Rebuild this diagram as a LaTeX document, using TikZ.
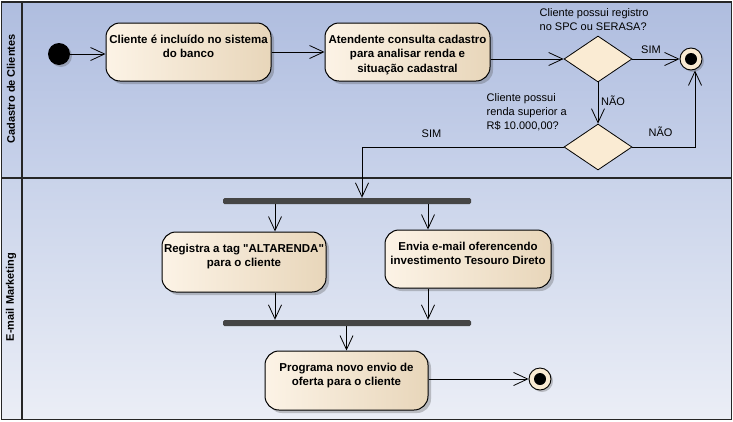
\documentclass[tikz,border=0pt]{standalone}
\usepackage{fontspec}
\setmainfont{Liberation Sans}[Ligatures=TeXOff]
\usetikzlibrary{arrows.meta,shapes.geometric,shadows}
\definecolor{laneAtop}{HTML}{AFBDDF}
\definecolor{laneAbot}{HTML}{C8D2EA}
\definecolor{laneBtop}{HTML}{C9D3EA}
\definecolor{laneBbot}{HTML}{EBEEF6}
\definecolor{actL}{HTML}{FCF3E6}
\definecolor{actR}{HTML}{E8D6BA}
\definecolor{cream}{HTML}{FAEBD3}
\definecolor{barc}{HTML}{454545}
\newcommand\acttext[3]{\parbox[c][#1][t]{#2}{\vspace*{10pt}\makebox[#2]{\begin{tabular}{@{}c@{}}#3\end{tabular}}}}
\begin{document}
\begin{tikzpicture}[x=1pt,y=-1pt,
  act/.style={draw=black, line width=1pt, rounded corners=14pt, left color=actL, right color=actR,
    inner sep=0pt, font=\fontsize{11.5}{14.5}\selectfont\bfseries,
    drop shadow={shadow xshift=3pt, shadow yshift=-3pt, opacity=0.3, fill=black!70}},
  decision/.style={diamond, draw=black, line width=0.8pt, fill=cream, inner sep=0pt,
    minimum width=68pt, minimum height=46pt, aspect=1.48},
  final/.style={circle, draw=black, line width=0.9pt, fill=cream, minimum size=22pt, inner sep=0pt,
    drop shadow={shadow xshift=2pt, shadow yshift=-2pt, opacity=0.3, fill=black!70}},
  initial/.style={circle, fill=black, minimum size=22pt, inner sep=0pt,
    drop shadow={shadow xshift=2pt, shadow yshift=-2pt, opacity=0.3, fill=black!70}},
  forkbar/.style={fill=barc, minimum width=248pt, minimum height=6pt, inner sep=0pt, rounded corners=1.5pt},
  flow/.style={draw=black, line width=0.8pt, -{Straight Barb[length=14pt,width=13pt,line width=0.8pt]}},
  guard/.style={font=\fontsize{11}{14}\selectfont, inner sep=0pt, align=left},
  lanelabel/.style={font=\fontsize{11}{13}\selectfont\bfseries, rotate=90, inner sep=0pt},
  frame/.style={draw=black!85, line width=1.2pt}
]
\useasboundingbox (0,0) rectangle (733,421);
% lanes
\fill[top color=laneAtop, bottom color=laneAbot] (1.5,2) rectangle (731.5,178);
\fill[top color=laneBtop, bottom color=laneBbot] (1.5,178) rectangle (731.5,419.5);
\draw[frame] (1.5,2) rectangle (731.5,419.5);
\draw[frame] (1.5,178) -- (731.5,178);
\draw[frame] (22,2) -- (22,419.5);
\node[lanelabel] (l1) at (11,89) {Cadastro de Clientes};
\node[lanelabel] (l2) at (11,297) {E-mail Marketing};

% nodes
\node[initial] (init) at (59,54) {};
\node[act] (n1) at (188.5,52) {\acttext{58pt}{165pt}{Cliente é incluído no sistema\\do banco}};
\node[act] (n2) at (407.5,52) {\acttext{58pt}{165pt}{Atendente consulta cadastro\\para analisar renda e\\situação cadastral}};
\node[decision] (d1) at (598,59) {};
\node[final] (f1) at (691,59) {};
\fill (f1) circle (6pt);
\node[decision] (d2) at (598,147) {};
\node[forkbar] (b1) at (347,201) {};
\node[act] (n3) at (244,262) {\acttext{60pt}{164pt}{Registra a tag "ALTARENDA"\\para o cliente}};
\node[act] (n4) at (468,259) {\acttext{58pt}{166pt}{Envia e-mail oferencendo\\investimento Tesouro Direto}};
\node[forkbar] (b2) at (347,323) {};
\node[act] (n5) at (346.5,380.5) {\acttext{59pt}{163pt}{Programa novo envio de\\oferta para o cliente}};
\node[final] (f2) at (540,379) {};
\fill (f2) circle (6pt);

% guard texts
\node[guard, anchor=west, font=\fontsize{11}{13.5}\selectfont] (g1) at (539.5,19.5) {Cliente possui registro\\no SPC ou SERASA?};
\node[guard] (g2) at (651,50) {SIM};
\node[guard, anchor=west] (g3) at (601,101) {NÃO};
\node[guard, anchor=west, font=\fontsize{11}{14.2}\selectfont] (g4) at (486.5,112) {Cliente possui\\renda superior a\\R\$ 10.000,00?};
\node[guard] (g5) at (660.5,132) {NÃO};
\node[guard] (g6) at (431.5,134) {SIM};

% connectors
\draw[flow] (init.east) -- (n1.west |- init);
\draw[flow] (n1.east) -- (n2.west);
\draw[flow] (n2.east |- d1) -- (d1.west);
\draw[flow] (d1.east) -- (f1.west);
\draw[flow] (d1.south) -- (d2.north);
\draw[flow] (d2.east) -| ([xshift=4pt]f1.south);
\draw[flow] (d2.west) -| ([xshift=15pt]b1.north);
\draw[flow] ([xshift=31pt]n3.north |- b1.south) -- ([xshift=31pt]n3.north);
\draw[flow] ([xshift=-40pt]n4.north |- b1.south) -- ([xshift=-40pt]n4.north);
\draw[flow] ([xshift=31pt]n3.south) -- ([xshift=31pt]n3.south |- b2.north);
\draw[flow] ([xshift=-40pt]n4.south) -- ([xshift=-40pt]n4.south |- b2.north);
\draw[flow] (n5.north |- b2.south) -- (n5.north);
\draw[flow] (n5.east |- f2) -- (f2.west);
\end{tikzpicture}
\end{document}
